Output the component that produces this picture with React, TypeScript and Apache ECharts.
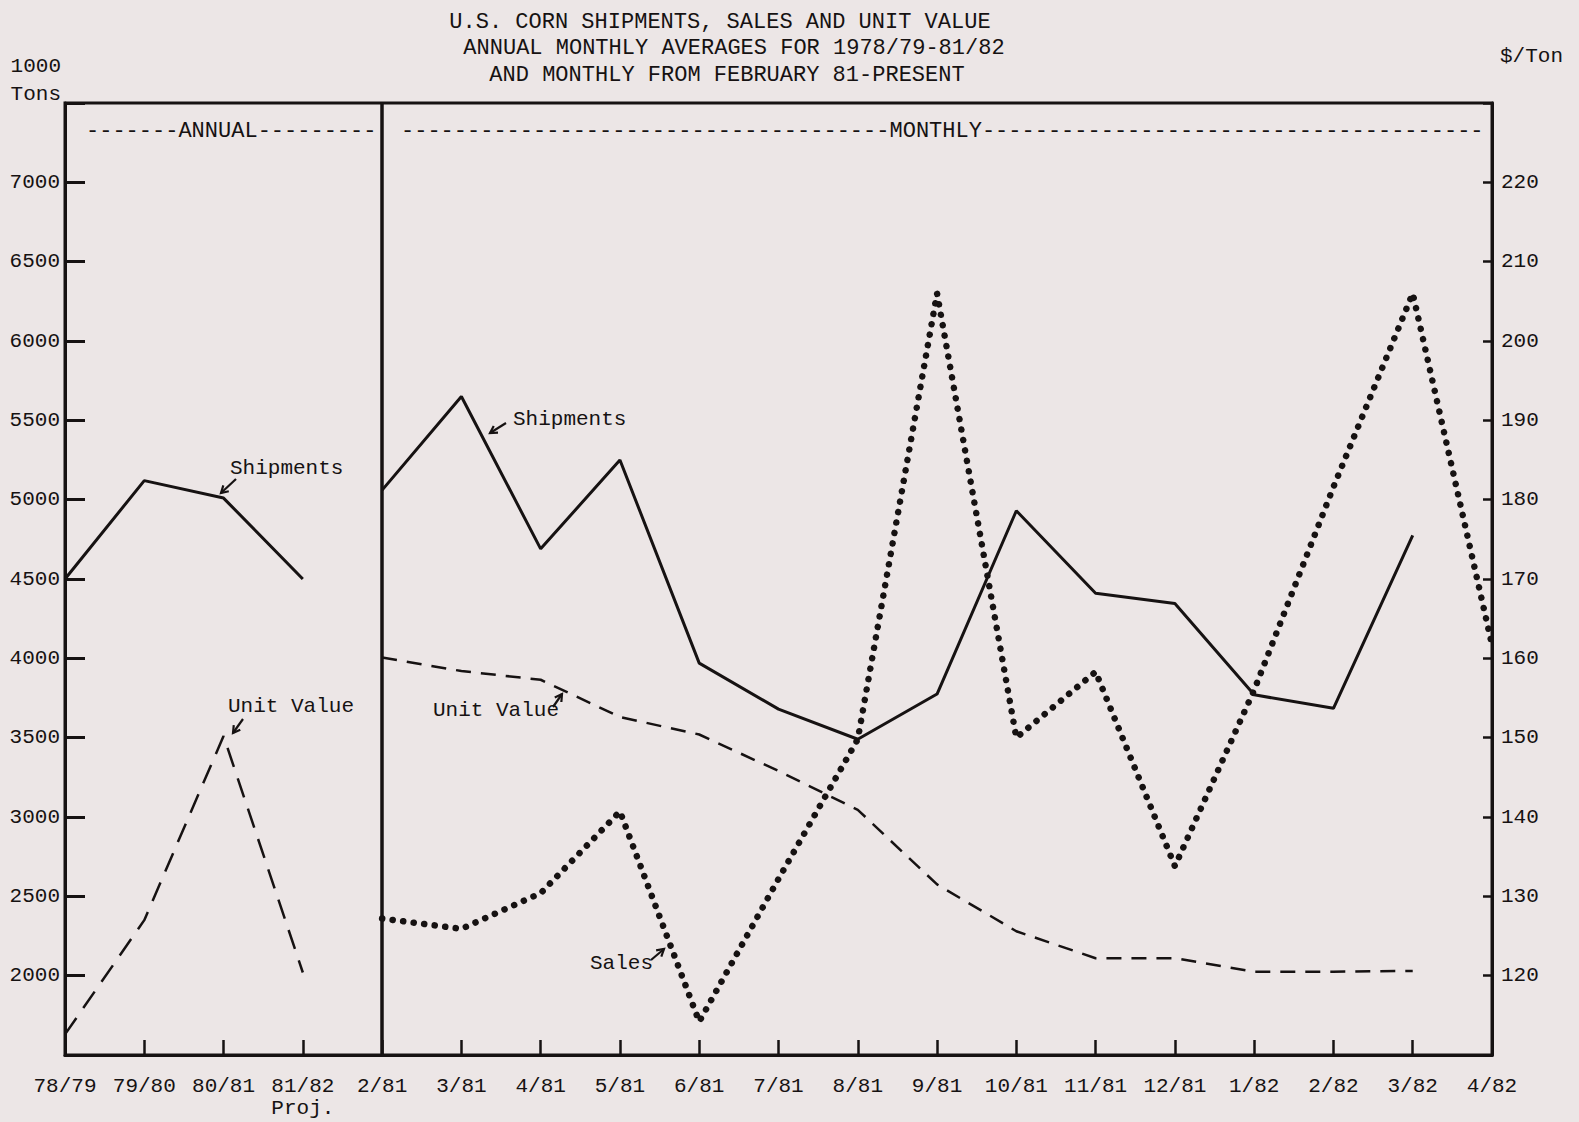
import React, { useEffect, useRef } from "react";
import * as echarts from "echarts";

// ---------- data ----------
const categories = [
  "78/79", "79/80", "80/81", "81/82",
  "2/81", "3/81", "4/81", "5/81", "6/81", "7/81", "8/81", "9/81",
  "10/81", "11/81", "12/81", "1/82", "2/82", "3/82", "4/82",
];
const annualCount = 4;

// 1000 tons (left axis)
const shipmentsAnnual = [4500, 5120, 5010, 4500];
const shipmentsMonthly = [5060, 5650, 4690, 5250, 3970, 3680, 3490, 3775, 4930, 4410, 4345, 3770, 3685, 4775];
const salesMonthly = [2360, 2295, 2520, 3035, 1710, 2610, 3490, 6300, 3500, 3915, 2690, 3800, 5080, 6300, 4085];

// $/ton (right axis)
const unitValueAnnual = [112.6, 127.0, 150.2, 120.4];
const unitValueMonthly = [160.1, 158.4, 157.3, 152.6, 150.4, 145.8, 140.9, 131.5, 125.6, 122.2, 122.2, 120.5, 120.5, 120.6];

const leftTicks = { min: 1500, max: 7500, step: 500 };
const rightTicks = { min: 110, max: 230, step: 10 };

const titleLines = [
  "U.S. CORN SHIPMENTS, SALES AND UNIT VALUE",
  "ANNUAL MONTHLY AVERAGES FOR 1978/79-81/82",
  "AND MONTHLY FROM FEBRUARY 81-PRESENT",
];

// ---------- styling ----------
const FONT = '"Liberation Mono", "DejaVu Sans Mono", monospace';
const INK = "#161212";
const BG = "#ece6e6";

const padAnnual = (arr: number[]) => {
  const out: (number | string)[] = [];
  for (let i = 0; i < categories.length; i++) out.push(i < arr.length ? arr[i] : "-");
  return out;
};
const padMonthly = (arr: number[]) => {
  const out: (number | string)[] = [];
  for (let i = 0; i < categories.length; i++) {
    const j = i - annualCount;
    out.push(j >= 0 && j < arr.length ? arr[j] : "-");
  }
  return out;
};

const txt = (text: string, x: number, y: number, size: number, align = "left") => ({
  type: "text",
  silent: true,
  style: {
    text,
    x,
    y,
    fill: INK,
    font: `${size}px ${FONT}`,
    textAlign: align,
    textVerticalAlign: "middle",
  },
});

const arrow = (x1: number, y1: number, x2: number, y2: number) => {
  const dx = x2 - x1;
  const dy = y2 - y1;
  const len = Math.sqrt(dx * dx + dy * dy);
  const ux = dx / len;
  const uy = dy / len;
  const h = 8;
  const a = Math.PI / 6;
  const p1 = [x2 - h * (ux * Math.cos(a) - uy * Math.sin(a)), y2 - h * (uy * Math.cos(a) + ux * Math.sin(a))];
  const p2 = [x2 - h * (ux * Math.cos(a) + uy * Math.sin(a)), y2 - h * (uy * Math.cos(a) - ux * Math.sin(a))];
  return [
    { type: "line", silent: true, shape: { x1, y1, x2, y2 }, style: { stroke: INK, lineWidth: 2.2 } },
    { type: "polyline", silent: true, shape: { points: [p1, [x2, y2], p2] }, style: { stroke: INK, lineWidth: 2.2, fill: null } },
  ];
};

export default function App() {
  const ref = useRef<HTMLDivElement>(null);

  useEffect(() => {
    document.body.style.margin = "0";
    if (!ref.current) return;
    const chart = echarts.init(ref.current, null, { renderer: "svg" });

    const monthlyHeader = "-".repeat(37) + "MONTHLY" + "-".repeat(38);
    const annualHeader = "-".repeat(7) + "ANNUAL" + "-".repeat(9);

    const graphics: any[] = [
      txt(titleLines[0], 720, 22, 22, "center"),
      txt(titleLines[1], 734, 48.5, 22, "center"),
      txt(titleLines[2], 727, 75.5, 22, "center"),
      txt("1000", 61, 66, 21, "right"),
      txt("Tons", 61, 94, 21, "right"),
      txt("$/Ton", 1500, 56, 21, "left"),
      txt(annualHeader, 86, 131, 22, "left"),
      txt(monthlyHeader, 401, 131, 22, "left"),
      txt("Shipments", 230, 468, 21, "left"),
      txt("Shipments", 513, 419, 21, "left"),
      txt("Unit Value", 228, 706, 21, "left"),
      txt("Unit Value", 433, 710, 21, "left"),
      txt("Sales", 590, 963, 21, "left"),
      ...arrow(236, 479, 221, 493),
      ...arrow(506, 423, 490, 433),
      ...arrow(243, 719, 233, 733),
      ...arrow(553, 707, 562, 694),
      ...arrow(651, 960, 664, 949),
    ];

    const option: any = {
      animation: false,
      backgroundColor: BG,
      textStyle: { fontFamily: FONT, color: INK },
      grid: {
        left: 65,
        right: 87,
        top: 103,
        bottom: 67,
        show: true,
        borderColor: INK,
        borderWidth: 3,
        backgroundColor: "transparent",
        containLabel: false,
        outerBoundsMode: "none",
      },
      xAxis: {
        type: "category",
        data: categories,
        boundaryGap: false,
        axisLine: { lineStyle: { color: INK, width: 3 } },
        axisTick: { inside: true, length: 15, interval: 0, lineStyle: { color: INK, width: 2.5 } },
        axisLabel: {
          color: INK,
          fontFamily: FONT,
          fontSize: 21,
          margin: 20,
          interval: 0,
          lineHeight: 22,
          formatter: (v: string) => (v === "81/82" ? v + "\nProj." : v),
        },
        splitLine: {
          show: true,
          interval: (i: number) => i === annualCount,
          lineStyle: { color: INK, width: 3.5 },
        },
      },
      yAxis: [
        {
          type: "value",
          position: "left",
          min: leftTicks.min,
          max: leftTicks.max,
          interval: leftTicks.step,
          axisLine: { show: true, lineStyle: { color: INK, width: 3 } },
          axisTick: { show: true, inside: true, length: 20, lineStyle: { color: INK, width: 3 } },
          axisLabel: {
            color: INK,
            fontFamily: FONT,
            fontSize: 21,
            margin: 5,
            formatter: (v: number) => (v === leftTicks.min || v === leftTicks.max ? "" : String(v)),
          },
          splitLine: { show: false },
        },
        {
          type: "value",
          position: "right",
          min: rightTicks.min,
          max: rightTicks.max,
          interval: rightTicks.step,
          axisLine: { show: true, lineStyle: { color: INK, width: 3 } },
          axisTick: { show: true, inside: true, length: 9, lineStyle: { color: INK, width: 2.5 } },
          axisLabel: {
            color: INK,
            fontFamily: FONT,
            fontSize: 21,
            margin: 9,
            formatter: (v: number) => (v === rightTicks.min || v === rightTicks.max ? "" : String(v)),
          },
          splitLine: { show: false },
        },
      ],
      series: [
        {
          name: "Shipments (annual)",
          type: "line",
          yAxisIndex: 0,
          data: padAnnual(shipmentsAnnual),
          symbol: "none",
          lineStyle: { color: INK, width: 3 },
        },
        {
          name: "Shipments (monthly)",
          type: "line",
          yAxisIndex: 0,
          data: padMonthly(shipmentsMonthly),
          symbol: "none",
          lineStyle: { color: INK, width: 3 },
        },
        {
          name: "Unit Value (annual)",
          type: "line",
          yAxisIndex: 1,
          data: padAnnual(unitValueAnnual),
          symbol: "none",
          lineStyle: { color: INK, width: 2.5, type: [20, 12] },
        },
        {
          name: "Unit Value (monthly)",
          type: "line",
          yAxisIndex: 1,
          data: padMonthly(unitValueMonthly),
          symbol: "none",
          lineStyle: { color: INK, width: 2.5, type: [15, 10] },
        },
        {
          name: "Sales",
          type: "line",
          yAxisIndex: 0,
          data: padMonthly(salesMonthly),
          symbol: "none",
          lineStyle: { color: INK, width: 6.5, type: [0.1, 10.5], cap: "round" },
        },
      ],
      graphic: graphics,
    };

    chart.setOption(option);
    return () => chart.dispose();
  }, []);

  return (
    <div
      ref={ref}
      style={{ position: "fixed", left: 0, top: 0, width: 1579, height: 1122 }}
    />
  );
}
